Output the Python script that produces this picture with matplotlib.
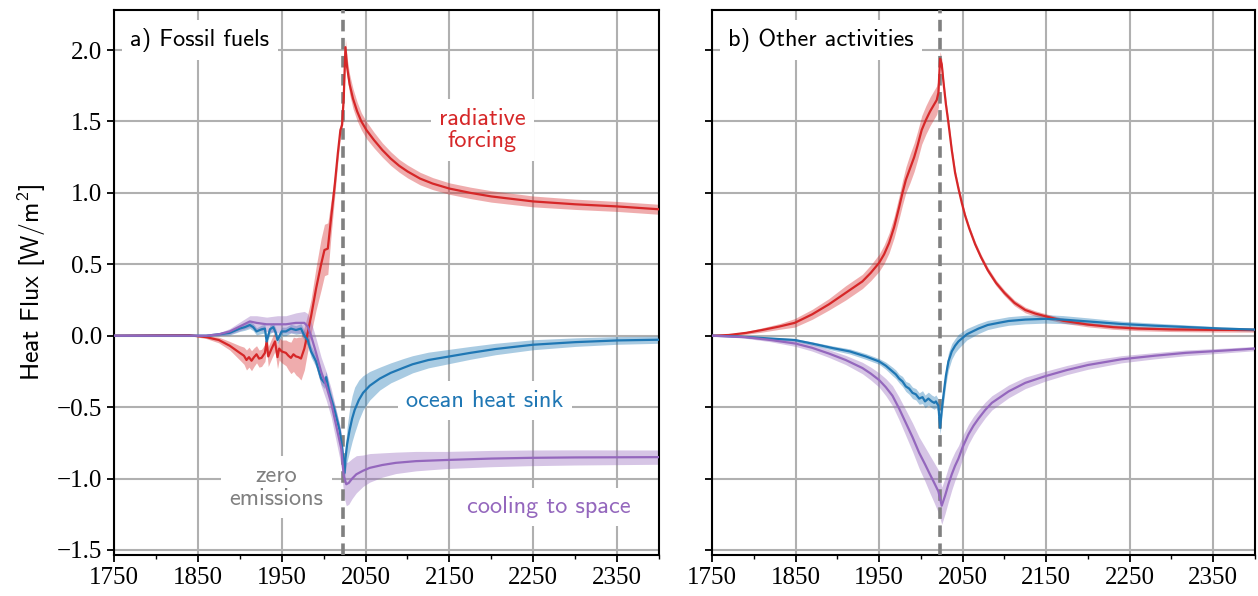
import numpy as np
import matplotlib
matplotlib.use("Agg")
import matplotlib.pyplot as plt
from matplotlib.ticker import MultipleLocator

plt.rcParams["mathtext.fontset"] = "custom"
plt.rcParams["mathtext.rm"] = "cmss10"
plt.rcParams["mathtext.it"] = "cmss10"
plt.rcParams["mathtext.bf"] = "cmss10"

SANS = "cmss10"
SERIF = "Liberation Serif"

RED = "#d62728"
BLUE = "#1f77b4"
PURPLE = "#9467bd"
GREY = "#808080"

ZERO_EMISSIONS = 2023

# ---- a) fossil fuels ----
fa_rad_year = [1750, 1800, 1840, 1860, 1875, 1888, 1900, 1905, 1908, 1911, 1914, 1917,
               1920, 1923, 1926, 1930, 1932, 1934, 1938, 1942, 1945, 1947, 1950, 1955,
               1958, 1961, 1964, 1967, 1970, 1973, 1977, 1981, 1985, 1991, 1997, 2001,
               2005, 2009, 2013, 2017, 2020, 2022, 2024, 2026, 2028, 2031, 2035, 2040,
               2045, 2051, 2060, 2070, 2080, 2090, 2100, 2115, 2130, 2150, 2175, 2200,
               2250, 2300, 2350, 2400]
fa_rad_mean = [0.0, 0.003, 0.004, -0.01, -0.03, -0.07, -0.12, -0.14, -0.17, -0.15, -0.175, -0.15,
               -0.13, -0.16, -0.155, -0.12, -0.04, -0.145, -0.09, -0.04, -0.15, -0.09, -0.11, -0.12,
               -0.14, -0.155, -0.13, -0.145, -0.15, -0.16, -0.09, 0.02, 0.135, 0.33, 0.50, 0.60,
               0.61, 0.83, 1.04, 1.28, 1.44, 1.475, 1.67, 2.02, 1.88, 1.76, 1.66, 1.57,
               1.50, 1.44, 1.37, 1.30, 1.24, 1.19, 1.15, 1.10, 1.065, 1.03, 1.0, 0.975,
               0.94, 0.92, 0.905, 0.885]
fa_rad_sd = [0.0, 0.002, 0.004, 0.01, 0.02, 0.03, 0.05, 0.06, 0.07, 0.07, 0.07, 0.065,
             0.06, 0.06, 0.06, 0.06, 0.06, 0.07, 0.07, 0.07, 0.08, 0.08, 0.08, 0.09,
             0.1, 0.11, 0.12, 0.13, 0.14, 0.15, 0.15, 0.13, 0.12, 0.15, 0.18, 0.18,
             0.18, 0.12, 0.08, 0.06, 0.05, 0.05, 0.06, 0.06, 0.065, 0.07, 0.07, 0.065,
             0.06, 0.06, 0.055, 0.05, 0.048, 0.045, 0.045, 0.044, 0.042, 0.04, 0.04, 0.04,
             0.038, 0.036, 0.035, 0.035]

fa_ocean_year = [1750, 1860, 1875, 1888, 1900, 1906, 1912, 1916, 1920, 1926, 1930, 1932,
                 1936, 1940, 1943, 1945, 1950, 1955, 1961, 1967, 1973, 1977, 1981, 1985,
                 1991, 1997, 2001, 2003, 2007, 2013, 2019, 2022, 2025, 2026, 2028, 2031,
                 2034, 2037, 2042, 2047, 2055, 2067, 2080, 2095, 2106, 2125, 2150, 2175,
                 2205, 2250, 2300, 2350, 2400]
fa_ocean_mean = [0.0, 0.0, 0.01, 0.02, 0.05, 0.06, 0.075, 0.06, 0.03, 0.045, 0.05, -0.04,
                 0.045, 0.06, 0.02, -0.03, 0.03, 0.03, 0.05, 0.04, 0.05, 0.0, -0.03, -0.11,
                 -0.18, -0.30, -0.33, -0.29, -0.40, -0.52, -0.66, -0.78, -0.96, -0.86, -0.76, -0.66,
                 -0.58, -0.52, -0.45, -0.40, -0.35, -0.30, -0.26, -0.225, -0.20, -0.17, -0.145, -0.12,
                 -0.093, -0.063, -0.045, -0.033, -0.028]
fa_ocean_sd = [0.0, 0.005, 0.01, 0.015, 0.02, 0.022, 0.025, 0.025, 0.025, 0.03, 0.03, 0.03,
               0.03, 0.03, 0.03, 0.03, 0.03, 0.03, 0.03, 0.03, 0.035, 0.035, 0.04, 0.04,
               0.04, 0.04, 0.04, 0.04, 0.04, 0.04, 0.04, 0.04, 0.05, 0.09, 0.12, 0.15,
               0.16, 0.16, 0.14, 0.12, 0.1, 0.08, 0.07, 0.065, 0.06, 0.055, 0.05, 0.045,
               0.04, 0.035, 0.03, 0.027, 0.025]

fa_space_year = [1750, 1860, 1875, 1888, 1900, 1912, 1920, 1932, 1945, 1955, 1967, 1977,
                 1981, 1985, 1991, 1997, 2003, 2009, 2015, 2021, 2024, 2027, 2030, 2034,
                 2039, 2047, 2055, 2070, 2086, 2110, 2146, 2200, 2245, 2300, 2400]
fa_space_mean = [0.0, 0.0, 0.01, 0.03, 0.065, 0.10, 0.09, 0.08, 0.08, 0.08, 0.09, 0.09,
                 0.065, 0.0, -0.12, -0.25, -0.35, -0.47, -0.63, -0.79, -0.98, -1.04, -1.03, -1.0,
                 -0.97, -0.945, -0.925, -0.905, -0.89, -0.878, -0.87, -0.86, -0.855, -0.852, -0.85]
fa_space_sd = [0.0, 0.005, 0.01, 0.02, 0.03, 0.04, 0.05, 0.05, 0.06, 0.06, 0.07, 0.08,
               0.09, 0.1, 0.1, 0.1, 0.1, 0.1, 0.11, 0.12, 0.14, 0.15, 0.15, 0.14,
               0.13, 0.11, 0.1, 0.085, 0.075, 0.068, 0.06, 0.057, 0.055, 0.053, 0.05]

# ---- b) other activities ----
fb_rad_year = [1750, 1770, 1791, 1810, 1831, 1849, 1870, 1890, 1910, 1930, 1940, 1950,
               1956, 1962, 1968, 1974, 1978, 1982, 1987, 1992, 1996, 2001, 2006, 2011,
               2015, 2019, 2021, 2023, 2025, 2027, 2030, 2033, 2037, 2041, 2045, 2049,
               2053, 2058, 2065, 2072, 2080, 2090, 2100, 2112, 2125, 2137, 2150, 2170,
               2200, 2230, 2260, 2300, 2350, 2400]
fb_rad_mean = [0.0, 0.005, 0.02, 0.04, 0.065, 0.09, 0.15, 0.22, 0.30, 0.38, 0.44, 0.51,
               0.57, 0.65, 0.76, 0.90, 1.0, 1.09, 1.17, 1.25, 1.33, 1.44, 1.51, 1.57,
               1.61, 1.65, 1.70, 1.94, 1.90, 1.78, 1.62, 1.49, 1.30, 1.14, 1.03, 0.93,
               0.84, 0.75, 0.64, 0.55, 0.46, 0.37, 0.30, 0.23, 0.18, 0.155, 0.135, 0.105,
               0.078, 0.06, 0.05, 0.044, 0.041, 0.04]
fb_rad_sd = [0.0, 0.005, 0.01, 0.015, 0.02, 0.03, 0.035, 0.04, 0.05, 0.05, 0.055, 0.06,
             0.065, 0.07, 0.075, 0.08, 0.085, 0.09, 0.1, 0.1, 0.1, 0.1, 0.1, 0.1,
             0.1, 0.1, 0.1, 0.05, 0.04, 0.03, 0.03, 0.03, 0.028, 0.025, 0.025, 0.023,
             0.02, 0.02, 0.02, 0.02, 0.02, 0.02, 0.02, 0.02, 0.02, 0.019, 0.018, 0.017,
             0.016, 0.015, 0.015, 0.015, 0.015, 0.015]

fb_ocean_year = [1750, 1780, 1800, 1820, 1849, 1870, 1894, 1915, 1934, 1950, 1958, 1966,
                 1970, 1974, 1978, 1982, 1986, 1990, 1994, 1998, 2002, 2005, 2009, 2013,
                 2016, 2018, 2021, 2023, 2025, 2027, 2030, 2033, 2037, 2041, 2045, 2055,
                 2069, 2080, 2093, 2105, 2125, 2148, 2170, 2200, 2240, 2280, 2317, 2360,
                 2400]
fb_ocean_mean = [0.0, -0.005, -0.012, -0.02, -0.03, -0.055, -0.086, -0.11, -0.145, -0.18, -0.21, -0.25,
                 -0.27, -0.30, -0.32, -0.355, -0.37, -0.40, -0.41, -0.44, -0.43, -0.46, -0.44, -0.46,
                 -0.47, -0.46, -0.49, -0.645, -0.52, -0.42, -0.28, -0.18, -0.11, -0.07, -0.04, 0.01,
                 0.05, 0.075, 0.09, 0.103, 0.113, 0.118, 0.113, 0.1, 0.082, 0.07, 0.061, 0.05,
                 0.043]
fb_ocean_sd = [0.0, 0.005, 0.008, 0.01, 0.01, 0.012, 0.015, 0.018, 0.02, 0.02, 0.025, 0.03,
               0.03, 0.03, 0.035, 0.035, 0.04, 0.04, 0.04, 0.04, 0.045, 0.045, 0.045, 0.045,
               0.045, 0.045, 0.045, 0.05, 0.06, 0.06, 0.06, 0.06, 0.055, 0.05, 0.05, 0.04,
               0.035, 0.032, 0.03, 0.03, 0.03, 0.03, 0.028, 0.025, 0.02, 0.018, 0.015, 0.012,
               0.01]

fb_space_year = [1750, 1790, 1820, 1850, 1870, 1890, 1910, 1930, 1940, 1950, 1958, 1966,
                 1974, 1982, 1990, 1998, 2005, 2010, 2016, 2021, 2025, 2029, 2033, 2037,
                 2041, 2045, 2050, 2057, 2063, 2069, 2077, 2085, 2095, 2105, 2125, 2148,
                 2175, 2200, 2240, 2280, 2317, 2360, 2400]
fb_space_mean = [0.0, -0.01, -0.03, -0.055, -0.085, -0.125, -0.17, -0.226, -0.265, -0.31, -0.36, -0.42,
                 -0.51, -0.61, -0.71, -0.82, -0.90, -0.96, -1.03, -1.09, -1.19, -1.12, -1.04, -0.97,
                 -0.91, -0.86, -0.78, -0.69, -0.63, -0.58, -0.52, -0.47, -0.43, -0.39, -0.33, -0.285,
                 -0.24, -0.205, -0.165, -0.14, -0.12, -0.105, -0.09]
fb_space_sd = [0.0, 0.008, 0.012, 0.02, 0.023, 0.027, 0.032, 0.04, 0.045, 0.05, 0.06, 0.07,
               0.08, 0.09, 0.1, 0.11, 0.12, 0.13, 0.14, 0.15, 0.13, 0.125, 0.12, 0.11,
               0.1, 0.09, 0.08, 0.07, 0.065, 0.06, 0.055, 0.05, 0.047, 0.045, 0.04, 0.035,
               0.032, 0.03, 0.025, 0.022, 0.02, 0.017, 0.015]

fig = plt.figure(figsize=(12.58, 5.96), dpi=100)
ax_a = fig.add_axes([0.0906, 0.0688, 0.4333, 0.9144])
ax_b = fig.add_axes([0.566, 0.0688, 0.4316, 0.9144], sharey=ax_a)


def draw_series(ax, year, mean, sd, color):
    year = np.asarray(year, float)
    mean = np.asarray(mean, float)
    sd = np.asarray(sd, float)
    ax.fill_between(year, mean - sd, mean + sd, color=color, alpha=0.38,
                    linewidth=0, zorder=2)
    ax.plot(year, mean, color=color, lw=1.6, zorder=4)


for ax in (ax_a, ax_b):
    ax.set_xlim(1750, 2400)
    ax.set_ylim(-1.535, 2.28)
    ax.xaxis.set_major_locator(MultipleLocator(100, offset=50))
    ax.xaxis.set_minor_locator(MultipleLocator(100))
    ax.yaxis.set_major_locator(MultipleLocator(0.5))
    ax.grid(True, which="major", color="#b0b0b0", lw=1.5, zorder=0)
    ax.set_axisbelow(True)
    ax.axvline(ZERO_EMISSIONS, color=GREY, lw=2.6, dashes=(3.2, 1.8), zorder=3)
    ax.tick_params(which="major", length=5, width=1.3, labelsize=18)
    ax.tick_params(which="minor", length=3, width=1.0)
    for lbl in ax.get_xticklabels() + ax.get_yticklabels():
        lbl.set_fontfamily(SERIF)
    for sp in ax.spines.values():
        sp.set_linewidth(1.5)

ax_b.tick_params(labelleft=False)

draw_series(ax_a, fa_rad_year, fa_rad_mean, fa_rad_sd, RED)
draw_series(ax_a, fa_ocean_year, fa_ocean_mean, fa_ocean_sd, BLUE)
draw_series(ax_a, fa_space_year, fa_space_mean, fa_space_sd, PURPLE)

draw_series(ax_b, fb_rad_year, fb_rad_mean, fb_rad_sd, RED)
draw_series(ax_b, fb_ocean_year, fb_ocean_mean, fb_ocean_sd, BLUE)
draw_series(ax_b, fb_space_year, fb_space_mean, fb_space_sd, PURPLE)

box = dict(facecolor="white", edgecolor="none", pad=6)
ax_a.text(0.03, 0.945, "a) Fossil fuels", transform=ax_a.transAxes, ha="left",
          va="center", fontsize=17.5, family=SANS, bbox=box, zorder=6)
ax_b.text(0.03, 0.945, "b) Other activities", transform=ax_b.transAxes, ha="left",
          va="center", fontsize=17.5, family=SANS, bbox=box, zorder=6)

ax_a.text(2189, 1.44, "radiative\nforcing", color=RED, ha="center", va="center",
          fontsize=17.5, family=SANS, linespacing=1.05, bbox=box, zorder=6)
ax_a.text(2192, -0.455, "ocean heat sink", color=BLUE, ha="center", va="center",
          fontsize=17.5, family=SANS, bbox=box, zorder=6)
ax_a.text(2268, -1.20, "cooling to space", color=PURPLE, ha="center", va="center",
          fontsize=17.5, family=SANS, bbox=box, zorder=6)
ax_a.text(1944, -1.06, "zero\nemissions", color=GREY, ha="center", va="center",
          fontsize=17.5, family=SANS, linespacing=1.05, bbox=box, zorder=6)

ax_a.set_ylabel(r"Heat Flux [W/m$^2$]", fontsize=18.5, family=SANS, labelpad=6)

fig.savefig("out.png", dpi=100)
